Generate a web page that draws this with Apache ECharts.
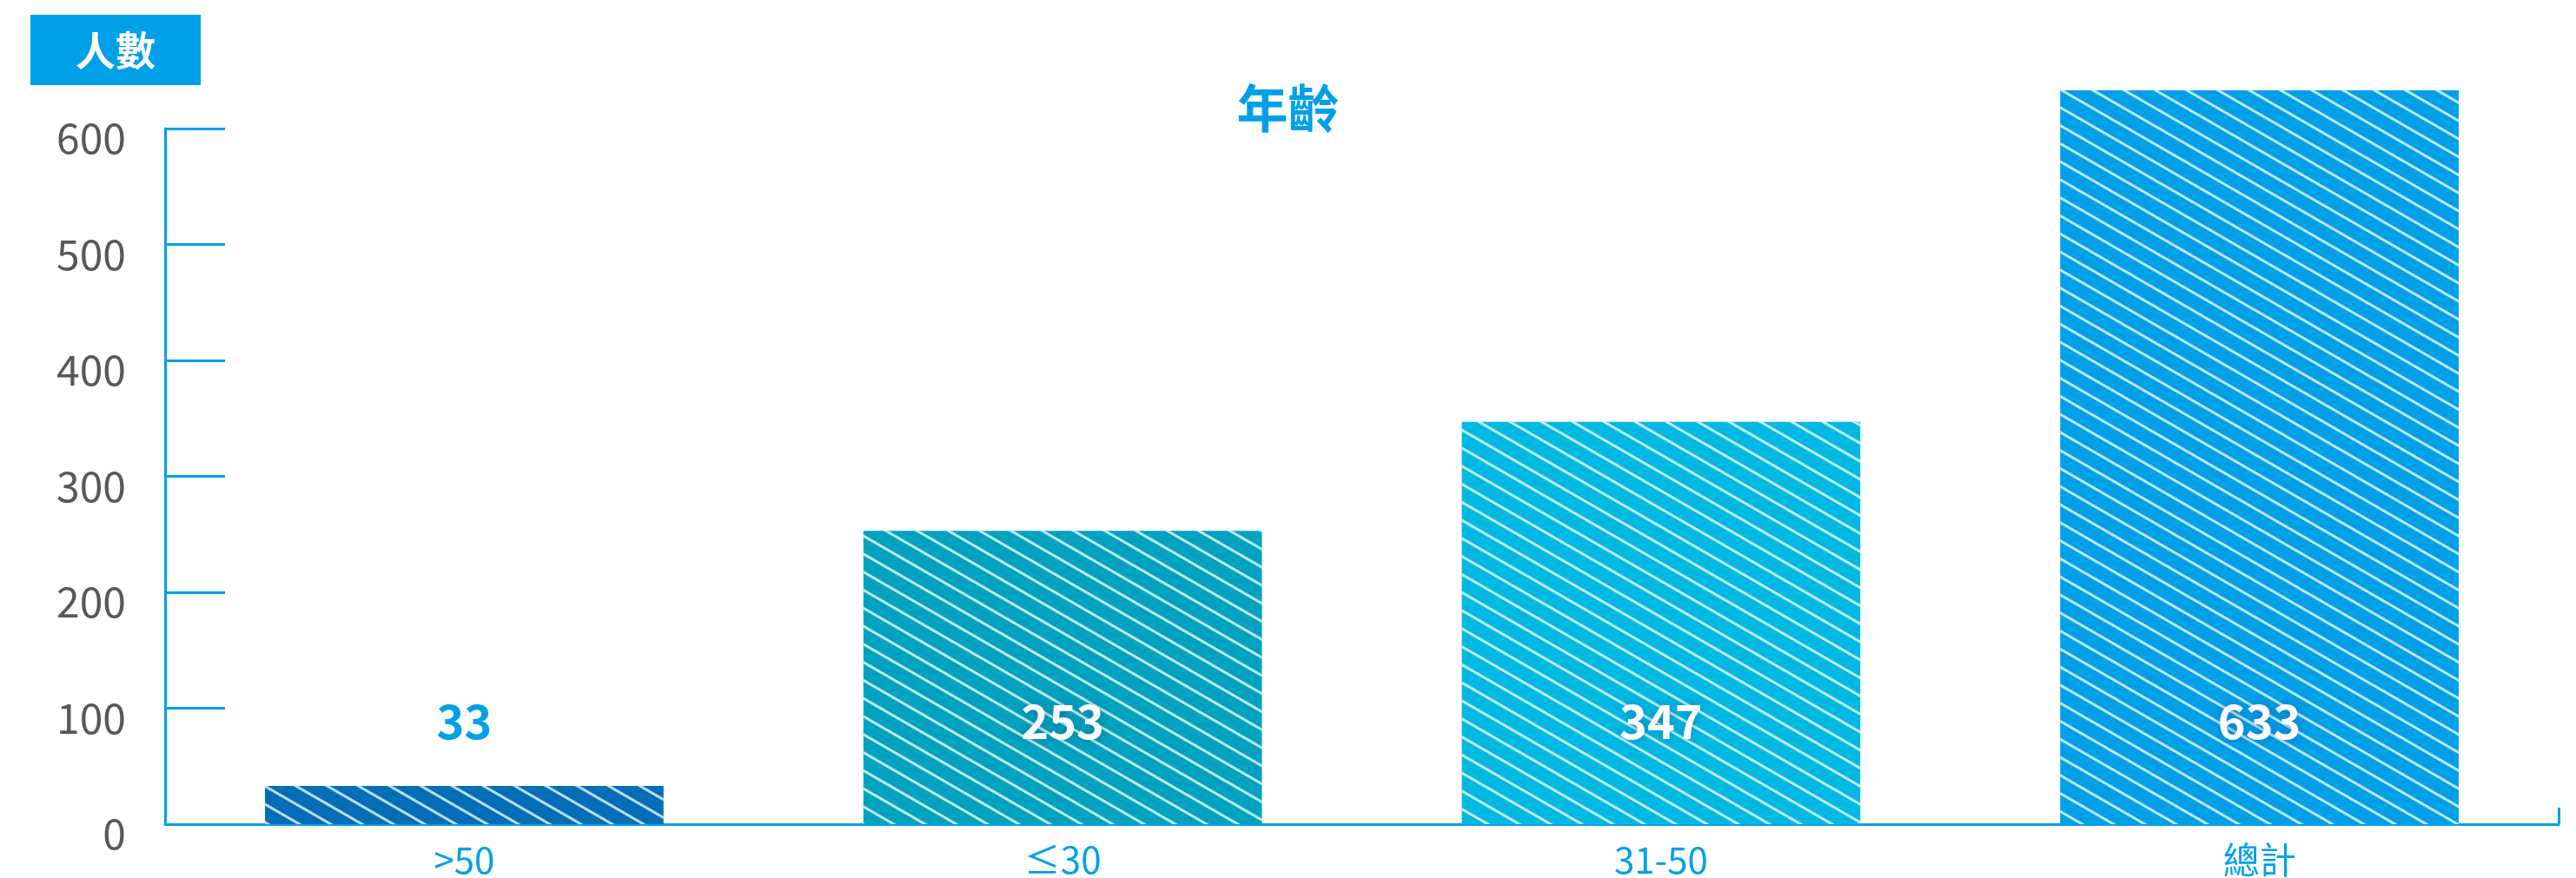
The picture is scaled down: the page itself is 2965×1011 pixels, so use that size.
<!DOCTYPE html>
<html>
<head>
<meta charset="utf-8">
<script src="https://cdn.jsdelivr.net/npm/echarts@6/dist/echarts.min.js"></script>
<style>
html,body{margin:0;padding:0;background:#fff;}
#chart{width:2965px;height:1011px;}
</style>
</head>
<body>
<div id="chart"></div>
<script>
const categories = ['>50', '≤30', '31-50', '總計'];
const values = [33, 253, 347, 633];
const barColors = ['#036EB8', '#00A3BF', '#00B9E3', '#00A0E9'];
const labelColors = ['#00A0E9', '#FFFFFF', '#FFFFFF', '#FFFFFF'];
const yTicks = { min: 0, max: 600, interval: 100 };
const chartTitle = '年齡';
const yName = '人數';

const FONT = '"Noto Sans CJK TC", "Noto Sans", sans-serif';
const chart = echarts.init(document.getElementById('chart'));

const seriesData = values.map((v, i) => ({
  value: v,
  itemStyle: {
    color: barColors[i],
    decal: {
      symbol: 'rect',
      symbolSize: 1,
      color: 'rgba(255,255,255,0.75)',
      dashArrayX: [1, 0],
      dashArrayY: [3, 15],
      rotation: Math.PI / 6
    }
  },
  label: {
    color: labelColors[i],
    textShadowColor: i === 0 ? 'transparent' : 'rgba(20,40,120,0.35)',
    textShadowBlur: i === 0 ? 0 : 12
  }
}));

chart.setOption({
  backgroundColor: '#ffffff',
  animation: false,
  title: [
    {
      text: chartTitle,
      left: 'center',
      top: 87,
      textStyle: { fontFamily: FONT, fontSize: 59, fontWeight: 'bold', color: '#00A0E9', lineHeight: 66 }
    },
    {
      text: yName,
      left: 35,
      top: 17,
      backgroundColor: '#00A0E9',
      padding: [17, 52],
      textStyle: { fontFamily: FONT, fontSize: 46, fontWeight: 'bold', color: '#FFFFFF', lineHeight: 47 }
    }
  ],
  grid: { left: 190, right: 20, top: 148, bottom: 62, containLabel: false },
  xAxis: {
    type: 'category',
    data: categories,
    axisLine: { lineStyle: { color: '#00A0E9', width: 3 } },
    axisTick: { show: true, inside: true, length: 19, lineStyle: { color: '#00A0E9', width: 3 }, interval: function (i) { return i === 0; } },
    axisLabel: { color: '#00A0E9', fontFamily: FONT, fontSize: 42, margin: 20 }
  },
  yAxis: {
    type: 'value',
    min: yTicks.min,
    max: yTicks.max,
    interval: yTicks.interval,
    axisLine: { show: true, lineStyle: { color: '#00A0E9', width: 3 } },
    axisTick: { show: true, inside: true, length: 69, lineStyle: { color: '#00A0E9', width: 3 } },
    splitLine: { show: false },
    axisLabel: { color: '#595757', fontFamily: FONT, fontSize: 48, margin: 45, verticalAlign: 'top', lineHeight: 22 }
  },
  series: [{
    type: 'bar',
    data: seriesData,
    clip: false,
    barCategoryGap: '33.4%',
    label: {
      show: true,
      position: 'insideBottom',
      distance: 92,
      fontFamily: FONT,
      fontSize: 54,
      fontWeight: 'bold'
    }
  }]
});
</script>
</body>
</html>
